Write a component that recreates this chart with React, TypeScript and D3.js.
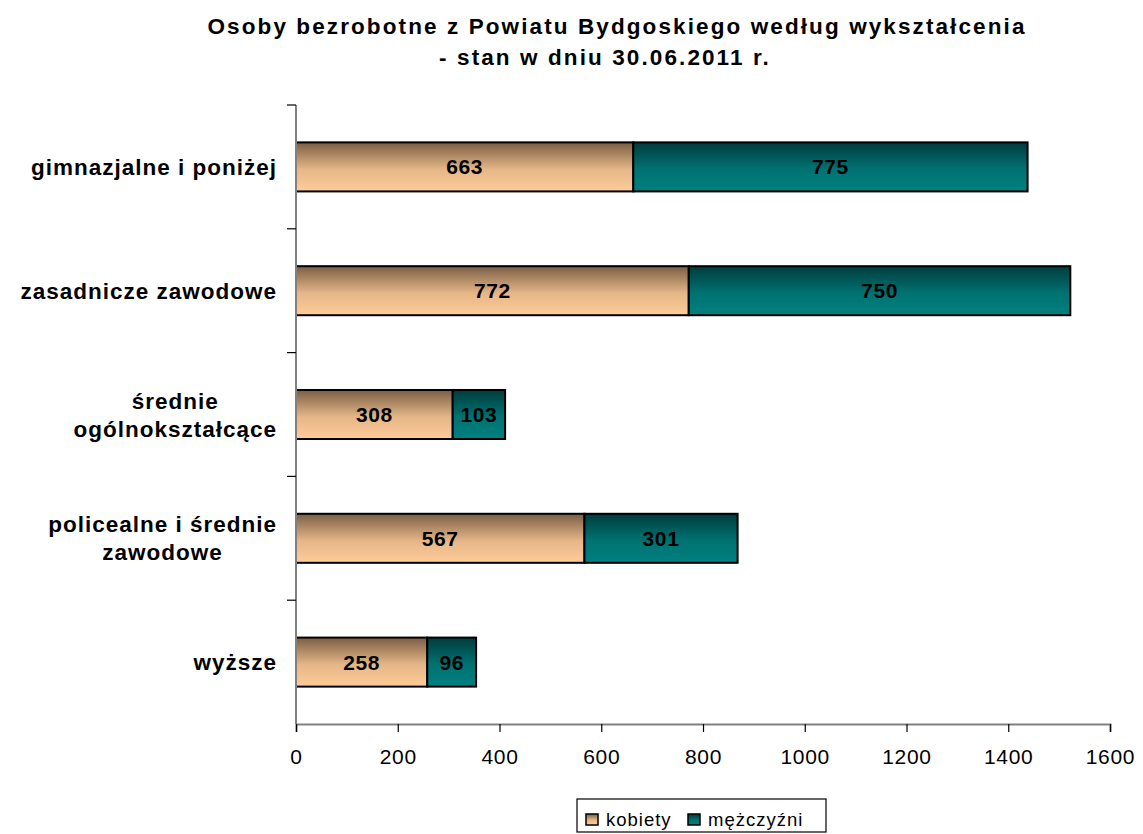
import React, { useEffect, useRef } from "react";
import * as d3 from "d3";

// categories (top to bottom), each label split into lines
const categories = [
  ["gimnazjalne i poniżej"],
  ["zasadnicze zawodowe"],
  ["średnie", "ogólnokształcące"],
  ["policealne i średnie", "zawodowe"],
  ["wyższe"],
];
const kobiety = [663, 772, 308, 567, 258];
const mezczyzni = [775, 750, 103, 301, 96];
const seriesNames = ["kobiety", "mężczyźni"];
const xTicks = [0, 200, 400, 600, 800, 1000, 1200, 1400, 1600];
const titleLines = [
  "Osoby bezrobotne z Powiatu Bydgoskiego według wykształcenia",
  "- stan w dniu 30.06.2011 r.",
];

export default function App() {
  const svgRef = useRef<SVGSVGElement>(null);
  const width = 1143;
  const height = 834;

  useEffect(() => {
    const svg = d3.select(svgRef.current);
    svg.selectAll("*").remove();
    const font = "Arial, 'Liberation Sans', sans-serif";

    const left = 296;
    const right = 1110;
    const top = 105;
    const bottom = 724;

    const x = d3.scaleLinear().domain([0, 1600]).range([left, right]);
    const y = d3
      .scaleBand()
      .domain(categories.map((_, i) => String(i)))
      .range([top, bottom])
      .paddingInner(0.604)
      .paddingOuter(0.302);

    const defs = svg.append("defs");
    const grads = [
      { id: "gK", dark: "#7b5e44", light: "#ffcc99" },
      { id: "gM", dark: "#003c3c", light: "#008080" },
    ];
    grads.forEach((g) => {
      const lg = defs
        .append("linearGradient")
        .attr("id", g.id)
        .attr("x1", 0)
        .attr("y1", 0)
        .attr("x2", 0)
        .attr("y2", 1);
      lg.append("stop").attr("offset", "0%").attr("stop-color", g.dark);
      lg.append("stop").attr("offset", "55%").attr("stop-color", d3.interpolateRgb(g.dark, g.light)(0.8));
      lg.append("stop").attr("offset", "100%").attr("stop-color", g.light);
    });

    // title (second line sits slightly left of the first, as in the original)
    const titleX = [617, 605];
    svg
      .append("g")
      .selectAll("text")
      .data(titleLines)
      .enter()
      .append("text")
      .attr("x", (_, i) => titleX[i])
      .attr("y", (_, i) => 34 + i * 31)
      .attr("text-anchor", "middle")
      .style("font-family", font)
      .style("font-weight", "bold")
      .style("font-size", "22.5px")
      .style("letter-spacing", "2.1px")
      .text((d) => d);

    // bars
    const stacks = categories.map((_, i) => [
      { x0: 0, x1: kobiety[i], v: kobiety[i], fill: "url(#gK)" },
      { x0: kobiety[i], x1: kobiety[i] + mezczyzni[i], v: mezczyzni[i], fill: "url(#gM)" },
    ]);
    const barG = svg.append("g");
    stacks.forEach((segs, i) => {
      const yy = y(String(i))!;
      segs.forEach((s) => {
        barG
          .append("rect")
          .attr("x", x(s.x0))
          .attr("y", yy)
          .attr("width", x(s.x1) - x(s.x0))
          .attr("height", y.bandwidth())
          .attr("fill", s.fill)
          .attr("stroke", "#000")
          .attr("stroke-width", 2);
        barG
          .append("text")
          .attr("x", (x(s.x0) + x(s.x1)) / 2)
          .attr("y", yy + y.bandwidth() / 2)
          .attr("dy", "0.36em")
          .attr("text-anchor", "middle")
          .style("font-family", font)
          .style("font-weight", "bold")
          .style("font-size", "21px")
          .style("letter-spacing", "0.6px")
          .text(s.v);
      });
    });

    // y axis line and ticks at band boundaries
    const axisColor = "#808080";
    const step = (bottom - top) / categories.length;
    svg
      .append("line")
      .attr("x1", left)
      .attr("x2", left)
      .attr("y1", top)
      .attr("y2", bottom)
      .attr("stroke", axisColor)
      .attr("stroke-width", 2);
    svg
      .append("g")
      .selectAll("line")
      .data(d3.range(categories.length))
      .enter()
      .append("line")
      .attr("x1", left - 9)
      .attr("x2", left)
      .attr("y1", (d) => top + d * step)
      .attr("y2", (d) => top + d * step)
      .attr("stroke", "#000")
      .attr("stroke-width", 1.2);

    // x axis
    const xAxis = d3.axisBottom(x).tickValues(xTicks).tickSize(8).tickPadding(17).tickFormat(d3.format("d"));
    const xg = svg.append("g").attr("transform", `translate(0,${bottom})`).call(xAxis);
    xg.select(".domain").attr("stroke", axisColor).attr("stroke-width", 2);
    xg.selectAll(".tick line").attr("stroke", "#000").attr("stroke-width", 1.2);
    xg.selectAll("text")
      .style("font-family", font)
      .style("font-size", "21px")
      .style("letter-spacing", "0.7px")
      .attr("fill", "#000");

    // category labels: block right-aligned, lines centered
    const labelRight = 277;
    categories.forEach((lines, i) => {
      const cy = y(String(i))! + y.bandwidth() / 2;
      const g = svg.append("g");
      const texts = g
        .selectAll("text")
        .data(lines)
        .enter()
        .append("text")
        .attr("y", (_, j) => cy + (j - (lines.length - 1) / 2) * 28)
        .attr("dy", "0.36em")
        .attr("text-anchor", "middle")
        .style("font-family", font)
        .style("font-weight", "bold")
        .style("font-size", "22.5px")
        .style("letter-spacing", "1px")
        .text((d) => d);
      let maxW = 0;
      texts.each(function () {
        maxW = Math.max(maxW, (this as SVGTextElement).getComputedTextLength());
      });
      texts.attr("x", labelRight - maxW / 2);
    });

    // legend
    const lg = svg.append("g");
    lg.append("rect")
      .attr("x", 577)
      .attr("y", 799)
      .attr("width", 249)
      .attr("height", 33)
      .attr("fill", "#fff")
      .attr("stroke", "#000")
      .attr("stroke-width", 1.2);
    const items = [
      { name: seriesNames[0], fill: "url(#gK)", x: 586 },
      { name: seriesNames[1], fill: "url(#gM)", x: 688 },
    ];
    items.forEach((it) => {
      lg.append("rect")
        .attr("x", it.x)
        .attr("y", 814)
        .attr("width", 12)
        .attr("height", 11)
        .attr("fill", it.fill)
        .attr("stroke", "#000")
        .attr("stroke-width", 1.5);
      lg.append("text")
        .attr("x", it.x + 20)
        .attr("y", 826)
        .style("font-family", font)
        .style("font-size", "18.5px")
        .style("letter-spacing", "1px")
        .text(it.name);
    });
  }, []);

  return (
    <svg
      ref={svgRef}
      width={width}
      height={height}
      style={{ display: "block", position: "absolute", left: 0, top: 0, background: "#fff" }}
    />
  );
}
